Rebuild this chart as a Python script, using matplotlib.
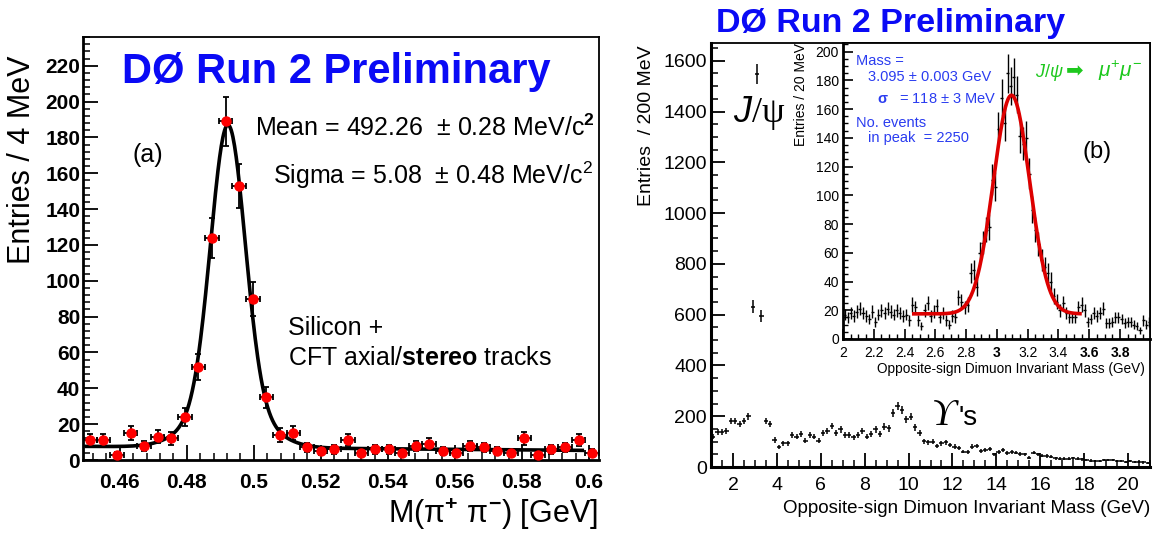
import numpy as np
import matplotlib
matplotlib.use('Agg')
import matplotlib.pyplot as plt
from matplotlib.ticker import MultipleLocator

plt.rcParams['font.family'] = ['Liberation Sans', 'DejaVu Sans']
plt.rcParams['mathtext.fontset'] = 'custom'
plt.rcParams['mathtext.rm'] = 'Liberation Sans'
plt.rcParams['mathtext.it'] = 'Liberation Sans:italic'
plt.rcParams['mathtext.bf'] = 'Liberation Sans:bold'

# ---- panel (a): K0s -> pi+ pi-, 4 MeV bins
ks_edges = np.linspace(0.449, 0.603, 39)
ks_counts = [11, 11, 3, 15, 8, 13, 12, 24, 52, 124,
             189, 153, 90, 35, 14, 15, 7, 5, 6, 11,
             4, 6, 6, 4, 8, 9, 5, 4, 8, 7,
             5, 4, 12, 3, 6, 7, 11, 4]
ks_xticks = [0.46, 0.48, 0.50, 0.52, 0.54, 0.56, 0.58, 0.60]
ks_xlabels = ['0.46', '0.48', '0.5', '0.52', '0.54', '0.56', '0.58', '0.6']
ks_yticks = list(range(0, 221, 20))
# fit: gaussian core (+ wider tail) on a linear background
ks_mean, ks_sigma = 0.49226, 0.00508
ks_core_amp, ks_tail_amp, ks_tail_sigma = 155.0, 25.0, 0.0100
ks_bkg0, ks_bkg1 = 7.6, -15.0
ks_fit_range = (0.450, 0.598)

# ---- panel (b): opposite-sign dimuons, 200 MeV bins
mu_edges = np.linspace(1.0, 21.0, 101)
mu_counts = [120, 139, 139, 143, 181, 181, 170, 181, 200, 632,
             1549, 595, 181, 170, 106, 78, 93, 93, 126, 120,
             129, 104, 125, 120, 104, 133, 143, 162, 133, 148,
             126, 126, 117, 126, 143, 120, 130, 148, 130, 159,
             152, 212, 240, 225, 189, 198, 156, 133, 102, 98,
             100, 82, 93, 97, 87, 80, 74, 61, 60, 80,
             83, 64, 67, 70, 50, 60, 67, 54, 58, 57,
             51, 50, 37, 57, 50, 45, 43, 41, 34, 32,
             32, 32, 34, 32, 30, 28, 25, 24, 24, 28,
             28, 28, 24, 24, 21, 24, 21, 21, 18, 14]
mu_xticks = list(range(2, 21, 2))
mu_yticks = list(range(0, 1601, 200))

# ---- inset: J/psi region, 20 MeV bins
jp_edges = np.linspace(2.0, 4.0, 101)
jp_counts = [17, 15, 18, 16, 19, 21, 18, 16, 14, 19,
             12, 17, 20, 18, 21, 19, 17, 20, 18, 16,
             17, 13, 24, 22, 13, 9, 20, 25, 16, 19,
             23, 15, 18, 13, 10, 16, 15, 29, 26, 22,
             24, 46, 48, 36, 60, 67, 76, 78, 111, 106,
             146, 168, 150, 185, 176, 182, 170, 141, 136, 140,
             115, 90, 76, 66, 55, 50, 46, 40, 30, 26,
             20, 25, 18, 15, 15, 15, 22, 24, 20, 12,
             14, 18, 16, 18, 21, 11, 11, 12, 15, 15,
             14, 11, 12, 12, 10, 9, 6, 13, 10, 12]
jp_xticks = [2.0, 2.2, 2.4, 2.6, 2.8, 3.0, 3.2, 3.4, 3.6, 3.8]
jp_xlabels = ['2', '2.2', '2.4', '2.6', '2.8', '3', '3.2', '3.4', '3.6', '3.8']
jp_bold_labels = ['3', '3.6', '3.8']
jp_yticks = list(range(0, 201, 20))
jp_mass, jp_sigma, jp_nevents, jp_bkg = 3.095, 0.118, 2250, 17.5
jp_fit_range = (2.46, 3.54)

W, H = 1163, 533
BLUE = '#0a0af5'


def fx(px):
    return px / W


def fy(py):
    return 1 - py / H


def rect(left, top, right, bottom):
    return [fx(left), fy(bottom), (right - left) / W, (bottom - top) / H]


fig = plt.figure(figsize=(W / 100, H / 100), dpi=100)

# ================= panel (a) =================
ax = fig.add_axes(rect(83, 37, 599, 460))
centers = 0.5 * (ks_edges[1:] + ks_edges[:-1])
half = 0.5 * (ks_edges[1] - ks_edges[0])
counts = np.array(ks_counts, dtype=float)
ax.errorbar(centers, counts, yerr=np.sqrt(counts), xerr=half, fmt='o',
            color='red', ms=6.5, mec='red', ecolor='black', elinewidth=1.3,
            capsize=2.5, capthick=1.3, zorder=3)
xf = np.linspace(*ks_fit_range, 600)
yf = (ks_core_amp * np.exp(-0.5 * ((xf - ks_mean) / ks_sigma) ** 2)
      + ks_tail_amp * np.exp(-0.5 * ((xf - ks_mean) / ks_tail_sigma) ** 2)
      + ks_bkg0 + ks_bkg1 * (xf - 0.45))
ax.plot(xf, yf, color='black', lw=2.6, zorder=2)
ax.set_xlim(0.449, 0.603)
ax.set_ylim(0, 236)
ax.set_xticks(ks_xticks, ks_xlabels, fontweight='bold')
ax.set_yticks(ks_yticks, [str(v) for v in ks_yticks], fontweight='bold')
ax.xaxis.set_minor_locator(MultipleLocator(0.004))
ax.yaxis.set_minor_locator(MultipleLocator(4))
ax.tick_params(which='both', direction='in', top=False, right=False, labelsize=15)
ax.tick_params(axis='y', which='major', length=11, width=1.3, pad=2)
ax.tick_params(axis='y', which='minor', length=5, width=1.1)
ax.tick_params(axis='x', which='major', length=11, width=1.3, pad=9)
ax.tick_params(axis='x', which='minor', length=5, width=1.1)
for s in ax.spines.values():
    s.set_linewidth(1.3)
ax.spines['left'].set_linewidth(2)
ax.spines['bottom'].set_linewidth(2)

fig.text(fx(336), fy(83), 'DØ Run 2 Preliminary', ha='center', va='baseline',
         fontsize=30, fontweight='bold', color=BLUE)
fig.text(fx(132), fy(162), '(a)', fontsize=18, va='baseline')
fig.text(fx(255), fy(136), r'Mean = 492.26  ± 0.28 MeV/c$^{\mathbf{2}}$',
         fontsize=18, va='baseline')
fig.text(fx(273), fy(184), r'Sigma = 5.08  ± 0.48 MeV/c$^{2}$',
         fontsize=18, va='baseline')
fig.text(fx(288), fy(335), 'Silicon +', fontsize=18, va='baseline')
fig.text(fx(288), fy(365), r'CFT axial/$\mathbf{stereo}$ tracks',
         fontsize=18, va='baseline')
fig.text(fx(37), fy(160), 'Entries / 4 MeV', rotation=90, ha='right',
         va='center', fontsize=22)
fig.text(fx(598), fy(523), r'M(π$^{\mathbf{+}}$ π$^{\mathbf{-}}$) [GeV]',
         ha='right', va='baseline', fontsize=22)

# ================= panel (b) =================
bx = fig.add_axes(rect(711, 43, 1150, 467))
mc = 0.5 * (mu_edges[1:] + mu_edges[:-1])
mh = 0.5 * (mu_edges[1] - mu_edges[0])
mcounts = np.array(mu_counts, dtype=float)
bx.errorbar(mc, mcounts, yerr=np.sqrt(mcounts), xerr=mh, fmt='none',
            ecolor='black', elinewidth=1.1)
bx.set_xlim(1, 21)
bx.set_ylim(0, 1670)
bx.set_xticks(mu_xticks, [str(v) for v in mu_xticks])
bx.set_yticks(mu_yticks, [str(v) for v in mu_yticks])
bx.xaxis.set_minor_locator(MultipleLocator(0.5))
bx.yaxis.set_minor_locator(MultipleLocator(50))
bx.tick_params(which='both', direction='in', top=False, right=False, labelsize=14)
bx.tick_params(axis='y', which='major', length=10, width=1.3, pad=3)
bx.tick_params(axis='y', which='minor', length=5, width=1.1)
bx.tick_params(axis='x', which='major', length=10, width=1.3, pad=7)
bx.tick_params(axis='x', which='minor', length=5, width=1.1)
for s in bx.spines.values():
    s.set_linewidth(1.3)
bx.spines['left'].set_linewidth(2.2)
bx.spines['bottom'].set_linewidth(2.2)

bx.text(3.19, 1395, r'$\mathit{J}$/ψ', ha='center', va='center', fontsize=26,
        family=['Liberation Serif', 'DejaVu Serif'])
fig.text(fx(932), fy(425), 'ϒ', fontsize=27, style='italic', va='baseline',
         family=['Liberation Serif', 'DejaVu Serif'])
fig.text(fx(958), fy(425), "'s", fontsize=20, va='baseline')

fig.text(fx(891), fy(32), 'DØ Run 2 Preliminary', ha='center', va='baseline',
         fontsize=24.5, fontweight='bold', color=BLUE)
fig.text(fx(655), fy(126), 'Entries  / 200 MeV', rotation=90, ha='right',
         va='center', fontsize=14)
fig.text(fx(1150), fy(513), 'Opposite-sign Dimuon Invariant Mass (GeV)',
         ha='right', va='baseline', fontsize=13.5)

# ================= inset =================
cx = fig.add_axes(rect(843, 43, 1150, 339))
cx.set_facecolor('white')
jc = 0.5 * (jp_edges[1:] + jp_edges[:-1])
jh = 0.5 * (jp_edges[1] - jp_edges[0])
jcounts = np.array(jp_counts, dtype=float)
cx.errorbar(jc, jcounts, yerr=np.sqrt(jcounts), xerr=jh, fmt='none',
            ecolor='black', elinewidth=1.0)
jx = np.linspace(*jp_fit_range, 400)
jp_amp = jp_nevents * (2 * jh) / (jp_sigma * np.sqrt(2 * np.pi))
jy = jp_bkg + jp_amp * np.exp(-0.5 * ((jx - jp_mass) / jp_sigma) ** 2)
cx.plot(jx, jy, color='#dd0000', lw=2.6, zorder=3)
cx.set_xlim(2.0, 3.995)
cx.set_ylim(0, 206)
cx.set_xticks(jp_xticks, jp_xlabels)
cx.set_yticks(jp_yticks, [str(v) for v in jp_yticks])
cx.xaxis.set_minor_locator(MultipleLocator(0.05))
cx.yaxis.set_minor_locator(MultipleLocator(5))
cx.tick_params(which='both', direction='in', top=False, right=False, labelsize=10)
cx.tick_params(axis='y', which='major', length=7, width=1.2, pad=3)
cx.tick_params(axis='y', which='minor', length=3.5, width=1.0)
cx.tick_params(axis='x', which='major', length=7, width=1.2, pad=5)
cx.tick_params(axis='x', which='minor', length=3.5, width=1.0)
for lbl in cx.get_xticklabels():
    if lbl.get_text() in jp_bold_labels:
        lbl.set_fontweight('bold')
for s in cx.spines.values():
    s.set_linewidth(1.3)
cx.spines['left'].set_linewidth(2)
cx.spines['bottom'].set_linewidth(2)

fig.text(fx(808), fy(95), 'Entries / 20 MeV', rotation=90, ha='right',
         va='center', fontsize=10)
fig.text(fx(1145), fy(373), 'Opposite-sign Dimuon Invariant Mass (GeV)',
         ha='right', va='baseline', fontsize=9.8)

ic = '#2a3cf0'
fig.text(fx(856), fy(65), 'Mass =', color=ic, fontsize=10.5, va='baseline')
fig.text(fx(868), fy(81), '3.095 ± 0.003 GeV', color=ic, fontsize=10.5, va='baseline')
fig.text(fx(877), fy(103), r'$\mathbf{σ}$   = 118 ± 3 MeV', color=ic, fontsize=10.5,
         va='baseline')
fig.text(fx(856), fy(127), 'No. events', color=ic, fontsize=10.5, va='baseline')
fig.text(fx(868), fy(142), 'in peak  = 2250', color=ic, fontsize=10.5, va='baseline')

green = '#1ec81e'
fig.text(fx(1035), fy(77), r'$\mathit{J/\psi}$', color=green, fontsize=13,
         va='baseline')
fig.text(fx(1066), fy(77), '➡', color=green, fontsize=15, va='baseline',
         family='DejaVu Sans')
fig.text(fx(1098), fy(77), r'$\mu^{+}\mu^{-}$', color=green, fontsize=15,
         va='baseline')
fig.text(fx(1083), fy(158), '(b)', fontsize=17, va='baseline')

fig.savefig('out.png', dpi=100)
